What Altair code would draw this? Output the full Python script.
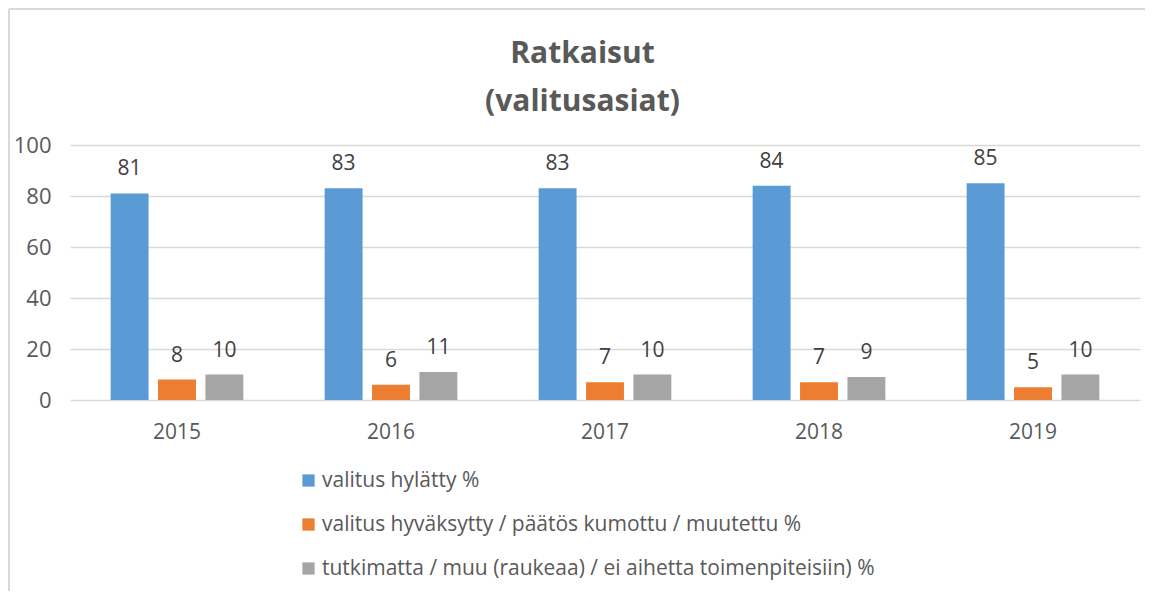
import altair as alt
import pandas as pd

years = ["2015", "2016", "2017", "2018", "2019"]
series = [
    "valitus hylätty %",
    "valitus hyväksytty / päätös kumottu / muutettu %",
    "tutkimatta / muu (raukeaa) / ei aihetta toimenpiteisiin) %",
]
hylatty = [81, 83, 83, 84, 85]
hyvaksytty = [8, 6, 7, 7, 5]
tutkimatta = [10, 11, 10, 9, 10]
colors = ["#5B9BD5", "#ED7D31", "#A5A5A5"]

rows = []
for vals, s in zip([hylatty, hyvaksytty, tutkimatta], series):
    for y, v in zip(years, vals):
        rows.append({"year": y, "series": s, "value": v})
df = pd.DataFrame(rows)

FONT = "Open Sans"
TXT = "#595959"

x = alt.X("year:N", title=None, sort=years,
          scale=alt.Scale(paddingInner=0.38, paddingOuter=0.19),
          axis=alt.Axis(labelAngle=0, labelFontSize=21, labelColor=TXT, labelFont=FONT,
                        ticks=False, domain=False, labelPadding=21, grid=False))
xo = alt.XOffset("series:N", sort=series, scale=alt.Scale(paddingInner=0.2, paddingOuter=0))
yax = alt.Axis(values=[0, 20, 40, 60, 80, 100], labelFontSize=22, labelColor=TXT,
               labelFont=FONT, ticks=False, domain=False, gridColor="#D9D9D9",
               gridWidth=1.5, labelPadding=19, orient="left")

bars = alt.Chart(df).mark_bar().encode(
    x=x,
    xOffset=xo,
    y=alt.Y("value:Q", title=None, scale=alt.Scale(domain=[0, 100]), axis=yax),
    color=alt.Color("series:N", sort=series,
                    scale=alt.Scale(domain=series, range=colors),
                    legend=alt.Legend(title=None, orient="none", legendX=228, legendY=325,
                                      direction="vertical", symbolType="square",
                                      symbolSize=150, symbolStrokeWidth=0,
                                      labelFontSize=21, labelColor=TXT, labelFont=FONT,
                                      rowPadding=22, labelLimit=800, labelOffset=3)),
)

labels = alt.Chart(df).mark_text(baseline="bottom", dy=-14, fontSize=21, font=FONT,
                                 color="#404040").encode(
    x=x,
    xOffset=xo,
    y=alt.Y("value:Q", title=None, scale=alt.Scale(domain=[0, 100]), axis=yax),
    text="value:Q",
)

# decorative chart frame (left and top edges of the outer border)
frame_left = alt.Chart(df).mark_rule(color="#D9D9D9", strokeWidth=2).encode(
    x=alt.value(-61), y=alt.value(-136), y2=alt.value(446))
frame_top = alt.Chart(df).mark_rule(color="#D9D9D9", strokeWidth=2).encode(
    x=alt.value(-61), x2=alt.value(1090), y=alt.value(-136))

chart = (bars + labels + frame_left + frame_top).properties(
    width=1070,
    height=255,
    title=alt.TitleParams(["Ratkaisut", "(valitusasiat)"], fontSize=30, font=FONT,
                          fontWeight="bold", color=TXT, lineHeight=48,
                          anchor="middle", frame="bounds", offset=-109, dx=-2),
    autosize=alt.AutoSizeParams(type="none"),
    padding={"left": 62, "top": 137, "right": 5, "bottom": 191},
    view=alt.ViewBackground(strokeWidth=0, strokeOpacity=0),
).configure_view(strokeWidth=0, stroke="transparent").configure(background="white")

chart.save("out.html", embed_options={"renderer": "svg", "actions": False})
